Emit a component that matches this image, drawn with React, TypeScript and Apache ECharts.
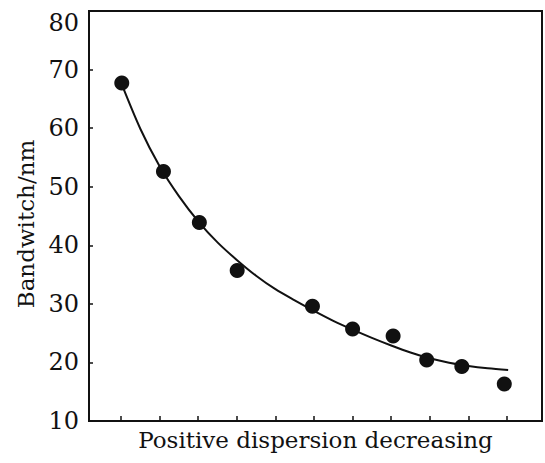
import React, { useEffect, useRef } from "react";
import * as echarts from "echarts";

// Measured points (x = position index along axis, y = bandwidth in nm)
const pointX = [1.02, 2.1, 3.03, 4.01, 5.96, 7.0, 8.05, 8.92, 9.83, 10.93];
const pointY = [67.7, 52.6, 43.9, 35.7, 29.6, 25.7, 24.5, 20.4, 19.3, 16.3];

// Fitted curve
const curveX = [1.0, 1.5, 2.0, 2.5, 3.0, 3.5, 4.0, 4.5, 5.0, 5.5, 6.0, 6.5, 7.0, 7.5, 8.0, 8.5, 9.0, 9.5, 10.0, 10.5, 11.03];
const curveY = [67.8, 59.9, 53.5, 48.4, 44.1, 40.5, 37.5, 34.8, 32.5, 30.6, 28.8, 27.1, 25.6, 24.2, 22.9, 21.7, 20.7, 19.95, 19.4, 19.0, 18.7];

const xTicks = [1, 2, 3, 4, 5, 6, 7, 8, 9, 10, 11];
const yTicks = [10, 20, 30, 40, 50, 60, 70, 80];

const xName = "Positive dispersion decreasing";
const yName = "Bandwitch/nm";

export default function App() {
  const ref = useRef<HTMLDivElement>(null);

  useEffect(() => {
    if (!ref.current) return;
    const chart = echarts.init(ref.current, undefined, { renderer: "svg" });
    const font = "DejaVu Serif";
    const ink = "#111111";
    chart.setOption({
      animation: false,
      backgroundColor: "#ffffff",
      grid: {
        left: 89,
        right: 3,
        top: 11,
        bottom: 42,
        containLabel: false,
        show: true,
        borderColor: ink,
        borderWidth: 2,
      },
      xAxis: {
        type: "value",
        min: 0.171,
        max: 11.907,
        name: xName,
        nameLocation: "middle",
        nameGap: 7,
        nameTextStyle: { fontFamily: font, fontSize: 23, color: ink, verticalAlign: "top" },
        axisLine: { show: true, lineStyle: { color: ink, width: 2 } },
        axisTick: {
          show: true,
          inside: true,
          length: 5,
          customValues: xTicks,
          lineStyle: { color: ink, width: 1.5 },
        },
        axisLabel: { show: false },
        splitLine: { show: false },
      },
      yAxis: {
        type: "value",
        min: yTicks[0],
        max: yTicks[yTicks.length - 1],
        interval: 10,
        name: yName,
        nameLocation: "middle",
        nameGap: 50,
        nameTextStyle: { fontFamily: font, fontSize: 23, color: ink, padding: [0, 16, 0, 0] },
        axisLine: { show: true, lineStyle: { color: ink, width: 2 } },
        axisTick: { show: true, inside: true, length: 4, lineStyle: { color: ink, width: 1.5 } },
        axisLabel: {
          fontFamily: font,
          fontSize: 24,
          color: ink,
          margin: 10,
          verticalAlignMaxLabel: "top",
        },
        splitLine: { show: false },
      },
      series: [
        {
          type: "line",
          data: curveX.map((x, i) => [x, curveY[i]]),
          smooth: 0.3,
          showSymbol: false,
          symbol: "none",
          lineStyle: { color: ink, width: 2 },
          z: 2,
        },
        {
          type: "scatter",
          data: pointX.map((x, i) => [x, pointY[i]]),
          symbol: "circle",
          symbolSize: 15,
          itemStyle: { color: ink, opacity: 1 },
          z: 3,
        },
      ],
    });
    return () => chart.dispose();
  }, []);

  return (
    <div
      ref={ref}
      style={{ position: "absolute", left: 0, top: 0, width: 545, height: 463 }}
    />
  );
}
